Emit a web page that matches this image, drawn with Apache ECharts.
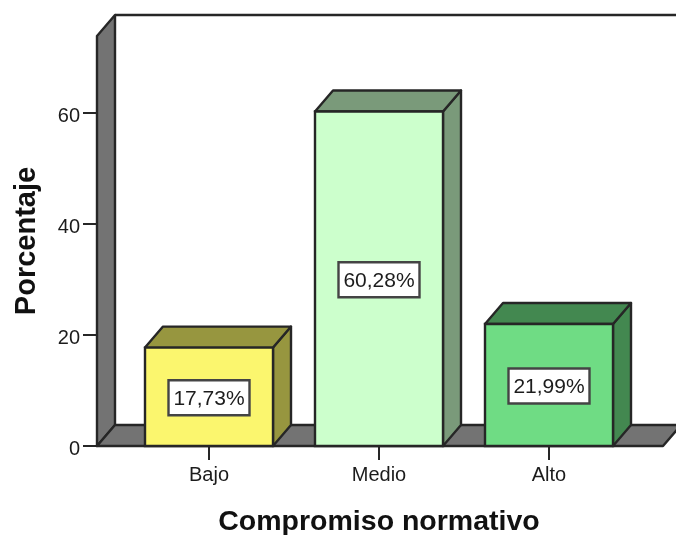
<!DOCTYPE html>
<html>
<head>
<meta charset="utf-8">
<style>html,body{margin:0;padding:0;background:#fff}#c{width:676px;height:535px}</style>
<script src="https://cdn.jsdelivr.net/npm/echarts@6/dist/echarts.min.js"></script>
</head>
<body>
<div id="c"></div>
<script>
// Compromiso normativo: percentage of respondents per level
const categories = ['Bajo', 'Medio', 'Alto'];
const percentages = [17.73, 60.28, 21.99];
const valueTicks = [0, 20, 40, 60];
const frontColors = ['#FBF66E', '#CCFFCC', '#6FDC84'];
const sideColors = ['#97963F', '#7A9A7A', '#438850'];

const DEPTH_X = 18, DEPTH_Y = 21;       // oblique offset of the pseudo-3D box
const BAR_WIDTH = 128;
const LINE = '#262626';
const WALL = '#737373';
const TEXT = '#1c1c1c';

const chart = echarts.init(document.getElementById('c'), null, { renderer: 'canvas' });

const poly = (points, fill) => ({
  type: 'polygon',
  shape: { points },
  style: { fill, stroke: LINE, lineWidth: 2.4, lineJoin: 'round' }
});

// Back wall, left wall and floor of the box around the plot
function renderFrame(params, api) {
  const cs = params.coordSys;
  const base = api.coord([0, 0])[1];
  const top = cs.y;
  const left = cs.x - 27;
  const right = cs.x + cs.width + 29;
  return {
    type: 'group',
    children: [
      poly([[left, top], [left + DEPTH_X, top - DEPTH_Y], [left + DEPTH_X, base - DEPTH_Y], [left, base]], WALL),
      poly([[left, base], [left + DEPTH_X, base - DEPTH_Y], [right + DEPTH_X, base - DEPTH_Y], [right, base]], WALL),
      { type: 'line', shape: { x1: left + DEPTH_X, y1: top - DEPTH_Y, x2: right + DEPTH_X, y2: top - DEPTH_Y },
        style: { stroke: LINE, lineWidth: 2.4 } }
    ]
  };
}

// One oblique box per category with its percentage in a white tag
function renderBar(params, api) {
  const i = api.value(0);
  const v = api.value(1);
  const [cx, y] = api.coord([i, v]);
  const y0 = api.coord([i, 0])[1];
  const l = cx - BAR_WIDTH / 2, r = cx + BAR_WIDTH / 2;
  const text = v.toFixed(2).replace('.', ',') + '%';
  const my = (y + y0) / 2 + 1;
  return {
    type: 'group',
    children: [
      poly([[r, y], [r + DEPTH_X, y - DEPTH_Y], [r + DEPTH_X, y0 - DEPTH_Y], [r, y0]], sideColors[i]),
      poly([[l, y], [l + DEPTH_X, y - DEPTH_Y], [r + DEPTH_X, y - DEPTH_Y], [r, y]], sideColors[i]),
      { type: 'rect', shape: { x: l, y, width: BAR_WIDTH, height: y0 - y },
        style: { fill: frontColors[i], stroke: LINE, lineWidth: 2.4 } },
      { type: 'rect', shape: { x: cx - 40.5, y: my - 17.5, width: 81, height: 35 },
        style: { fill: '#fff', stroke: '#444', lineWidth: 2.4 } },
      { type: 'text', style: { x: cx, y: my + 1, text, align: 'center', verticalAlign: 'middle',
        fill: TEXT, font: '21px "Liberation Sans", Arial, sans-serif' } }
    ]
  };
}

chart.setOption({
  animation: false,
  backgroundColor: '#fff',
  grid: { left: 124, right: 42, top: 36, bottom: 89, outerBoundsMode: 'none' },
  xAxis: {
    type: 'category',
    data: categories,
    axisLine: { show: false },
    axisTick: { show: true, alignWithLabel: true, length: 14, lineStyle: { color: LINE, width: 2 } },
    axisLabel: { color: TEXT, fontSize: 20, fontFamily: 'Liberation Sans', margin: 19 },
    name: 'Compromiso normativo',
    nameLocation: 'middle',
    nameGap: 62,
    nameTextStyle: { color: '#111', fontSize: 28.5, fontWeight: 'bold', fontFamily: 'Liberation Sans' }
  },
  yAxis: {
    type: 'value',
    min: 0,
    max: 73.87,
    interval: 20,
    offset: 27,
    splitLine: { show: false },
    axisLine: { show: false },
    axisTick: { show: true, length: 14, customValues: valueTicks, lineStyle: { color: LINE, width: 2 } },
    axisLabel: {
      margin: 17,
      customValues: valueTicks,
      formatter: '{t|{value}}',
      rich: { t: { color: TEXT, fontSize: 20, fontFamily: 'Liberation Sans', padding: [7, 0, 0, 0] } }
    },
    name: 'Porcentaje',
    nameLocation: 'middle',
    nameGap: 56,
    nameTextStyle: { color: '#111', fontSize: 29, fontWeight: 'bold', fontFamily: 'Liberation Sans' }
  },
  series: [
    { type: 'custom', renderItem: renderFrame, data: [[0, 0]], silent: true, z: 1 },
    { type: 'custom', renderItem: renderBar, encode: { x: 0, y: 1 },
      data: percentages.map((p, i) => [i, p]), z: 2 }
  ]
});
</script>
</body>
</html>
